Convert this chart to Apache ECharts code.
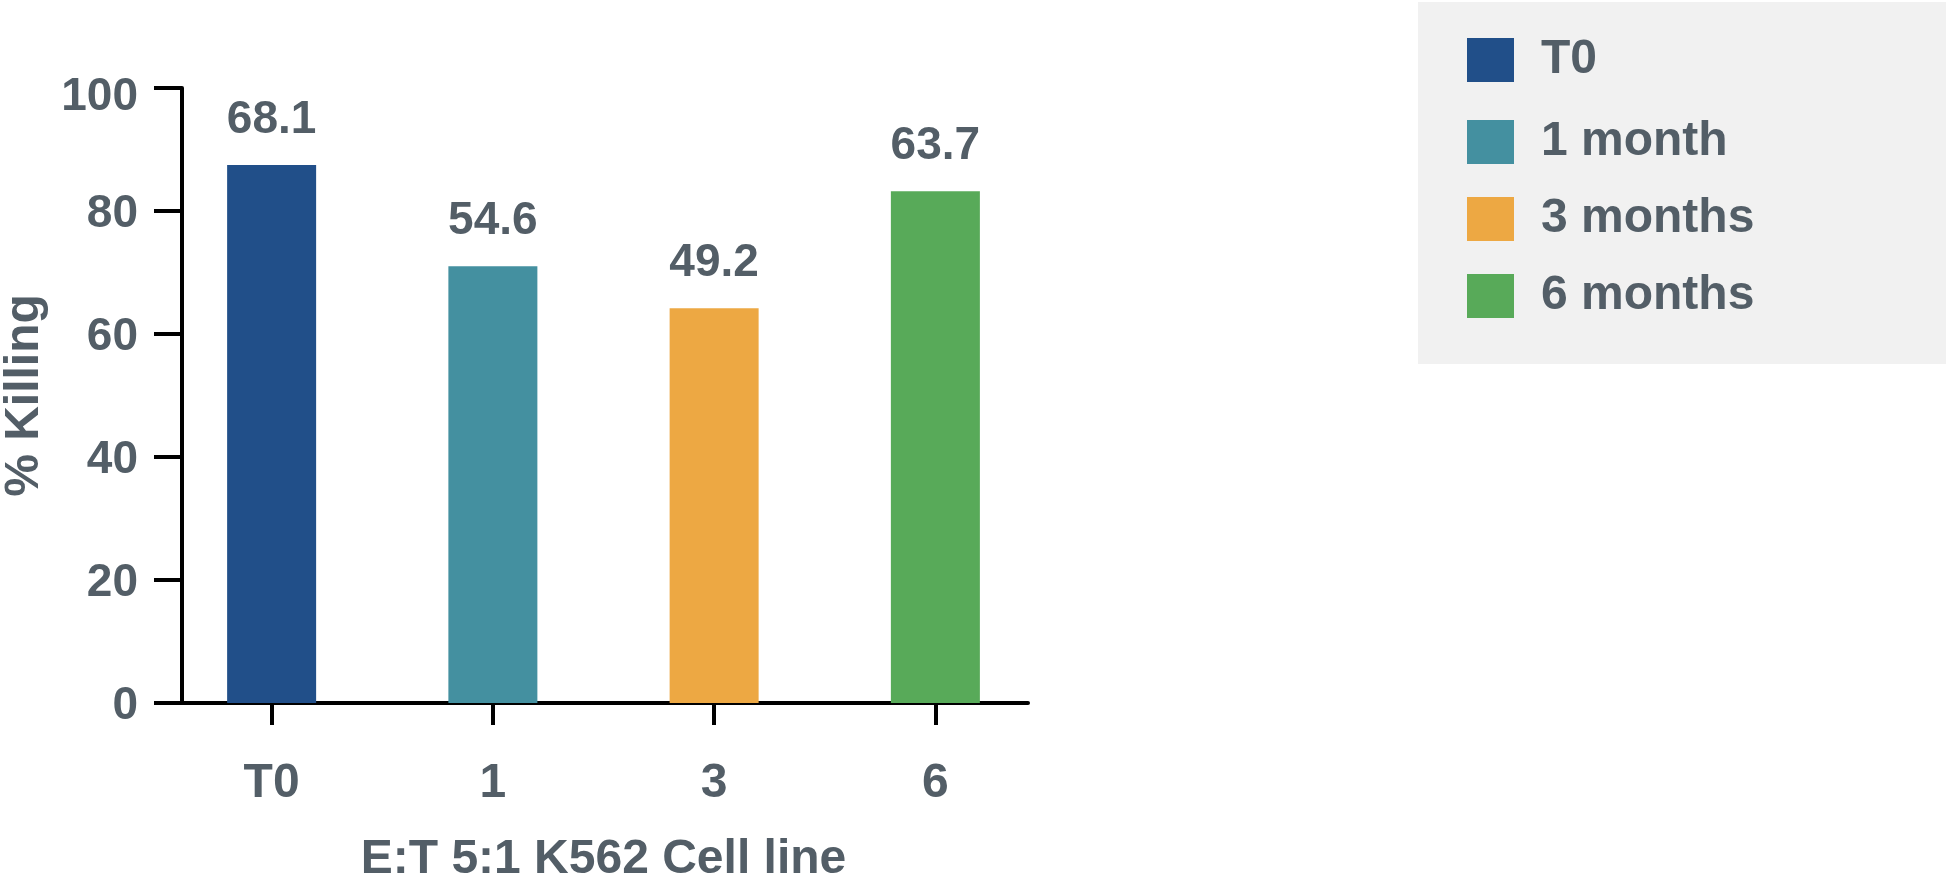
<!DOCTYPE html>
<html>
<head>
<meta charset="utf-8">
<script src="https://cdn.jsdelivr.net/npm/echarts@6/dist/echarts.min.js"></script>
<style>
html,body{margin:0;padding:0;background:#fff;}
#chart{width:1946px;height:879px;}
</style>
</head>
<body>
<div id="chart"></div>
<script>
// ---- data ----
const categories = ['T0', '1', '3', '6'];
const seriesNames = ['T0', '1 month', '3 months', '6 months'];
const barValues = [87.5, 71.0, 64.2, 83.2];
const labelValues = ['68.1', '54.6', '49.2', '63.7'];
const yTicks = [0, 20, 40, 60, 80, 100];
const colors = ['#214f89', '#4490a0', '#eda843', '#58aa59'];

const txt = '#535e67';
const font = 'Liberation Sans';

const chart = echarts.init(document.getElementById('chart'));

const series = seriesNames.map((name, i) => ({
  name: name,
  type: 'bar',
  xAxisIndex: 1,
  yAxisIndex: 1,
  barWidth: 89,
  barGap: '-100%',
  itemStyle: { color: colors[i] },
  data: categories.map((c, j) => (j === i ? barValues[j] : '-')),
  label: {
    show: true,
    position: 'top',
    distance: 22,
    fontFamily: font,
    fontWeight: 'bold',
    fontSize: 46,
    color: txt,
    formatter: p => labelValues[p.dataIndex]
  }
}));

const baseText = { fontFamily: font, fontWeight: 'bold', fontSize: 48, color: txt };
const yLabelStyle = { fontFamily: font, fontWeight: 'bold', fontSize: 46, color: txt };
const legendCommon = {
  orient: 'vertical',
  itemWidth: 47,
  itemHeight: 44,
  itemGap: 29,
  icon: 'rect',
  textStyle: Object.assign({}, baseText, { padding: [0, 0, 0, 22] })
};

chart.setOption({
  animation: false,
  color: colors,
  grid: [
    { left: 182, width: 846, top: 88, height: 615, outerBoundsMode: 'none', containLabel: false },
    { left: 161, width: 885, top: 88, height: 615, outerBoundsMode: 'none', containLabel: false }
  ],
  legend: [
    Object.assign({}, legendCommon, {
      left: 1418,
      top: 2,
      padding: [34, 420, 280, 49],
      backgroundColor: '#f1f1f1',
      z: 4,
      data: seriesNames.slice(0, 1)
    }),
    Object.assign({}, legendCommon, {
      left: 1467,
      top: 118,
      padding: 0,
      z: 6,
      data: seriesNames.slice(1)
    })
  ],
  xAxis: [
    {
      gridIndex: 0, type: 'value', min: 0, max: 1,
      axisLine: { show: true, lineStyle: { color: '#000', width: 4 } },
      axisTick: { show: false }, axisLabel: { show: false }, splitLine: { show: false }
    },
    {
      gridIndex: 1, type: 'category', data: categories,
      axisLine: { show: false },
      axisTick: { show: true, alignWithLabel: true, length: 22, lineStyle: { color: '#000', width: 4 } },
      axisLabel: Object.assign({ margin: 57 }, baseText),
      splitLine: { show: false },
      name: 'E:T 5:1 K562 Cell line',
      nameLocation: 'middle',
      nameGap: 133,
      nameTextStyle: baseText
    }
  ],
  yAxis: [
    {
      gridIndex: 0, type: 'value', min: yTicks[0], max: yTicks[yTicks.length - 1], interval: 20,
      axisLine: { show: true, lineStyle: { color: '#000', width: 4 } },
      axisTick: { show: true, length: 28, lineStyle: { color: '#000', width: 4 } },
      axisLabel: {
        margin: 44,
        formatter: v => (v === 100 ? '{t|' + v + '}' : '{n|' + v + '}'),
        rich: {
          n: Object.assign({}, yLabelStyle, { padding: [6, 0, 0, 0] }),
          t: Object.assign({}, yLabelStyle, { padding: [18, 0, 0, 0] })
        }
      },
      splitLine: { show: false },
      name: '% Killing',
      nameLocation: 'middle',
      nameGap: 133,
      nameTextStyle: baseText
    },
    {
      gridIndex: 1, type: 'value', min: 0, max: 100, show: false
    }
  ],
  series: series
});
</script>
</body>
</html>
